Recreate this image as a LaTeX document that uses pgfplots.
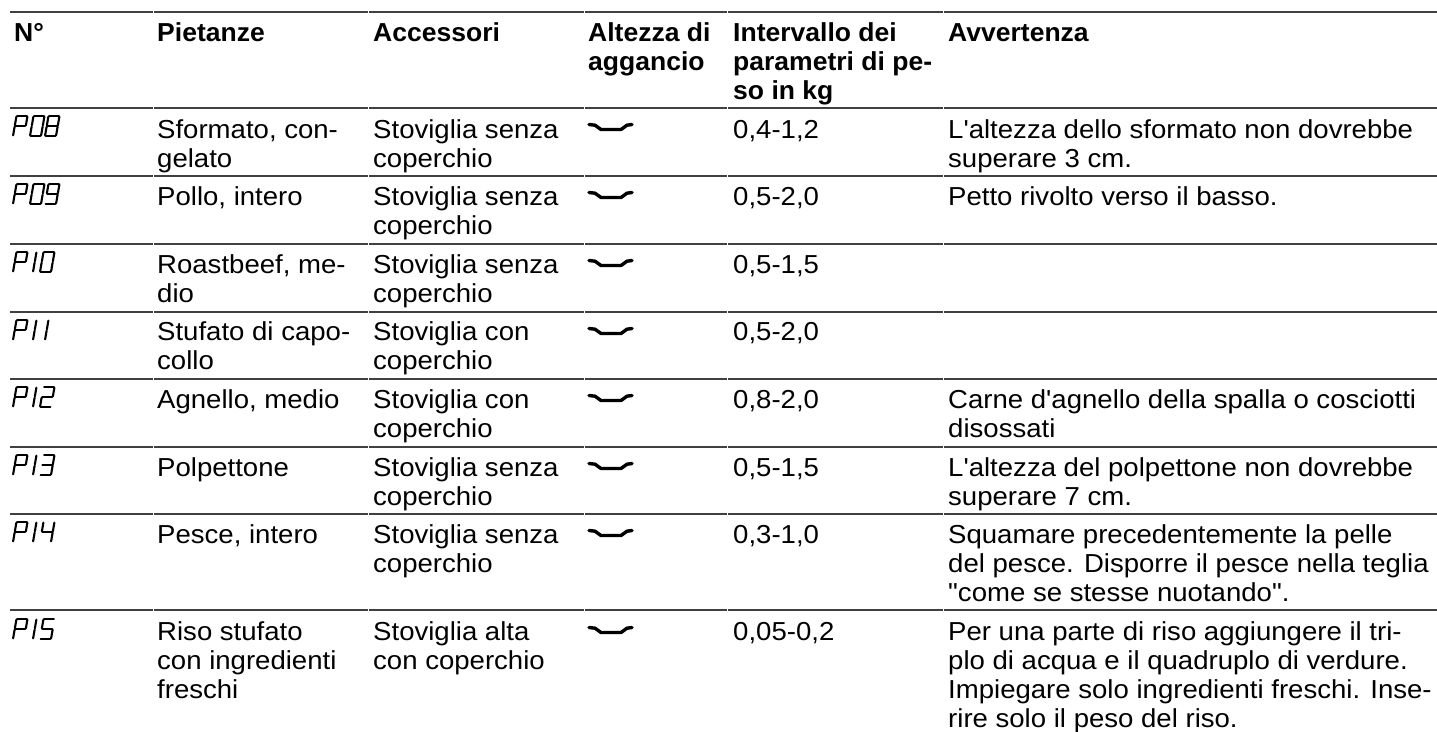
\documentclass[border=0pt]{standalone}
\usepackage{pgfplots}
\pgfplotsset{compat=1.18}
\usepackage{fontspec}
\newfontfamily\tf[FakeStretch=1.06]{Liberation Sans}
\newfontfamily\tfb[FakeStretch=1.02]{Liberation Sans Bold}
\newcommand\RF{\tf\fontsize{26}{29}\selectfont}
\newcommand\BF{\tfb\fontsize{26}{29}\selectfont}
\newcommand\TX[3]{\node[anchor=base west,inner sep=0pt,font=\RF] at (axis cs:#1,#2) {#3};}
\newcommand\HX[3]{\node[anchor=base west,inner sep=0pt,font=\BF] at (axis cs:#1,#2) {#3};}
\newcommand\rul[1]{\addplot[color=black!75,line width=1.5pt,unbounded coords=jump] coordinates {(10,#1) (153,#1) (nan,nan) (153.8,#1) (368,#1) (nan,nan) (368.8,#1) (584,#1) (nan,nan) (584.8,#1) (727,#1) (nan,nan) (727.8,#1) (943,#1) (nan,nan) (943.8,#1) (1437,#1)};}
% seven-segment helper
\newcommand\sg[4]{%
 \pgfmathsetmacro\xa{\cx+#1*11+(1-#2)*3.5}\pgfmathsetmacro\ya{\cy+#2*20}%
 \pgfmathsetmacro\xb{\cx+#3*11+(1-#4)*3.5}\pgfmathsetmacro\yb{\cy+#4*20}%
 \addplot[black,line width=2.1pt,line cap=round] coordinates {(\xa,\ya) (\xb,\yb)};}
\newcommand\sA{\sg{0.05}{0}{0.95}{0}}
\newcommand\sB{\sg{1}{0.03}{1}{0.47}}
\newcommand\sC{\sg{1}{0.53}{1}{0.97}}
\newcommand\sD{\sg{0.05}{1}{0.95}{1}}
\newcommand\sE{\sg{0}{0.53}{0}{0.97}}
\newcommand\sF{\sg{0}{0.03}{0}{0.47}}
\newcommand\sG{\sg{0.05}{0.5}{0.95}{0.5}}
\newcommand\dP[1]{\def\cx{13}\def\cy{#1}\sA\sB\sE\sF\sG}
\newcommand\dO[2]{\def\cx{#1}\def\cy{#2}\sA\sB\sC\sD\sE\sF}
\newcommand\dI[2]{\def\cx{#1}\def\cy{#2}\sB\sC}
\newcommand\dTwo[2]{\def\cx{#1}\def\cy{#2}\sA\sB\sG\sE\sD}
\newcommand\dThree[2]{\def\cx{#1}\def\cy{#2}\sA\sB\sG\sC\sD}
\newcommand\dFour[2]{\def\cx{#1}\def\cy{#2}\sF\sG\sB\sC}
\newcommand\dFive[2]{\def\cx{#1}\def\cy{#2}\sA\sF\sG\sC\sD}
\newcommand\dEight[2]{\def\cx{#1}\def\cy{#2}\sA\sB\sC\sD\sE\sF\sG}
\newcommand\dNine[2]{\def\cx{#1}\def\cy{#2}\sA\sB\sC\sD\sF\sG}
% oven rack level symbol
\newcommand\lev[1]{%
 \pgfmathsetmacro\ya{#1}\pgfmathsetmacro\yb{#1+0.7}\pgfmathsetmacro\yc{#1+5}%
 \addplot[black,line width=3.4pt,line cap=round,line join=round] coordinates {(589,\ya) (595,\yb) (601,\yc) (621,\yc) (627,\yb) (632,\ya)};}
\begin{document}
\begin{tikzpicture}
\path[use as bounding box] (0,0) rectangle (1437pt,731pt);
\begin{axis}[at={(0,0)},anchor=south west,scale only axis,width=1437pt,height=731pt,
 xmin=0,xmax=1437,ymin=0,ymax=731,y dir=reverse,hide axis,clip=false]
\rul{12}\rul{108}\rul{176}\rul{244}\rul{312}\rul{379}\rul{447}\rul{514}\rul{610}
% header
\HX{14}{41}{N°}\HX{157}{41}{Pietanze}\HX{373}{41}{Accessori}
\HX{588}{41}{Altezza di}\HX{588}{70}{aggancio}
\HX{733}{41}{Intervallo dei}\HX{733}{70}{parametri di pe-}\HX{733}{99}{so in kg}
\HX{948}{41}{Avvertenza}
% rows
\dP{116}\dO{30}{116}\dEight{45}{116}
\TX{157}{138}{Sformato, con-}\TX{157}{167}{gelato}
\TX{373}{138}{Stoviglia senza}\TX{373}{167}{coperchio}\lev{124.5}
\TX{733}{138}{0,4-1,2}
\TX{948}{138}{L'altezza dello sformato non dovrebbe}\TX{948}{167}{superare 3 cm.}

\dP{184}\dO{30}{184}\dNine{45}{184}
\TX{157}{205}{Pollo, intero}
\TX{373}{205}{Stoviglia senza}\TX{373}{234}{coperchio}\lev{192.5}
\TX{733}{205}{0,5-2,0}
\TX{948}{205}{Petto rivolto verso il basso.}

\dP{252}\dI{22}{252}\dO{40}{252}
\TX{157}{273}{Roastbeef, me-}\TX{157}{302}{dio}
\TX{373}{273}{Stoviglia senza}\TX{373}{302}{coperchio}\lev{260.5}
\TX{733}{273}{0,5-1,5}

\dP{320}\dI{22}{320}\dI{34}{320}
\TX{157}{340}{Stufato di capo-}\TX{157}{369}{collo}
\TX{373}{340}{Stoviglia con}\TX{373}{369}{coperchio}\lev{328.5}
\TX{733}{340}{0,5-2,0}

\dP{387}\dI{22}{387}\dTwo{40}{387}
\TX{157}{408}{Agnello, medio}
\TX{373}{408}{Stoviglia con}\TX{373}{437}{coperchio}\lev{395.5}
\TX{733}{408}{0,8-2,0}
\TX{948}{408}{Carne d'agnello della spalla o cosciotti}\TX{948}{437}{disossati}

\dP{455}\dI{22}{455}\dThree{40}{455}
\TX{157}{476}{Polpettone}
\TX{373}{476}{Stoviglia senza}\TX{373}{505}{coperchio}\lev{463.5}
\TX{733}{476}{0,5-1,5}
\TX{948}{476}{L'altezza del polpettone non dovrebbe}\TX{948}{505}{superare 7 cm.}

\dP{522}\dI{22}{522}\dFour{40}{522}
\TX{157}{543}{Pesce, intero}
\TX{373}{543}{Stoviglia senza}\TX{373}{572}{coperchio}\lev{530.5}
\TX{733}{543}{0,3-1,0}
\TX{948}{543}{Squamare precedentemente la pelle}\TX{948}{572}{del pesce. Disporre il pesce nella teglia}\TX{948}{601}{"come se stesse nuotando".}

\dP{619}\dI{22}{619}\dFive{40}{619}
\TX{157}{640}{Riso stufato}\TX{157}{669}{con ingredienti}\TX{157}{698}{freschi}
\TX{373}{640}{Stoviglia alta}\TX{373}{669}{con coperchio}\lev{627.5}
\TX{733}{640}{0,05-0,2}
\TX{948}{640}{Per una parte di riso aggiungere il tri-}\TX{948}{669}{plo di acqua e il quadruplo di verdure.}\TX{948}{698}{Impiegare solo ingredienti freschi. Inse-}\TX{948}{727}{rire solo il peso del riso.}
\end{axis}
\end{tikzpicture}
\end{document}
